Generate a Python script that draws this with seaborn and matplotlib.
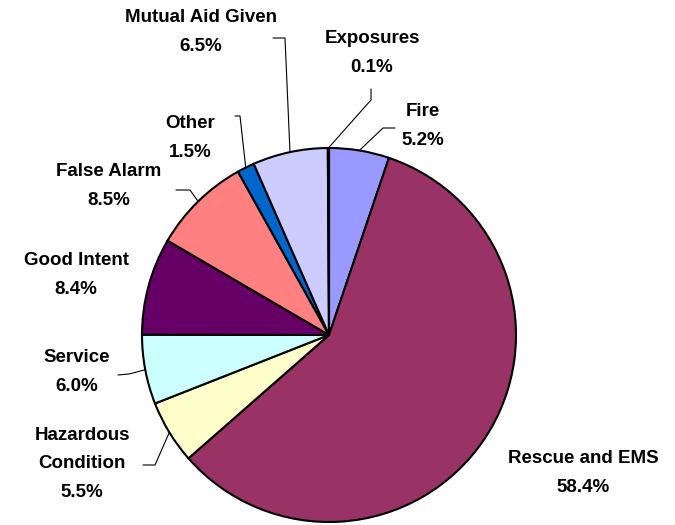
import numpy as np
import matplotlib
matplotlib.use("Agg")
import matplotlib.pyplot as plt
import seaborn as sns

categories = ["Fire", "Rescue and EMS", "Hazardous\nCondition", "Service", "Good Intent",
              "False Alarm", "Other", "Mutual Aid Given", "Exposures"]
values = [5.2, 58.4, 5.5, 6.0, 8.4, 8.5, 1.5, 6.5, 0.1]
colors = ["#9999FF", "#993366", "#FFFFCC", "#CCFFFF", "#660066",
          "#FF8080", "#0066CC", "#CCCCFF", "#000080"]

# layout (pixel coordinates, y measured from top)
W, H = 675, 525
cx, cy, R = 329, 335, 187
label_pos = [(423, 126), (583, 473), (82, 464), (77, 372), (76, 275),
             (109, 186), (190, 138), (201, 32), (372, 53)]
elbows = [[(395, 128), (383, 128)], None, [(143, 465), (155, 465)],
          [(118, 375), (129, 374)], None, [(176, 190), (190, 190)],
          [(235, 116), (240, 116)], [(273, 38), (285, 38)], [(371, 89), (371, 100)]]

sns.set_theme(style="white")
plt.rcParams["font.family"] = ["Liberation Sans", "DejaVu Sans"]

fig = plt.figure(figsize=(6.75, 5.25), dpi=100)
ax = fig.add_axes([0, 0, 1, 1])

def Y(y):
    return H - y

ax.pie(values, colors=colors, startangle=90, counterclock=False,
       center=(cx, Y(cy)), radius=R,
       wedgeprops=dict(edgecolor="black", linewidth=1.5))
ax.set_xlim(0, W)
ax.set_ylim(0, H)
ax.set_aspect("equal")
ax.axis("off")

total = sum(values)
cum = np.cumsum(values) - np.array(values) / 2
for i, (cat, v) in enumerate(zip(categories, values)):
    tx, ty = label_pos[i]
    ax.text(tx, Y(ty), f"{cat}\n{v:.1f}%", ha="center", va="center",
            fontsize=13.5, fontweight="bold", color="black", linespacing=1.9)
    if elbows[i] is not None:
        theta = np.deg2rad(cum[i] / total * 360)
        px = cx + R * np.sin(theta)
        py = cy - R * np.cos(theta)
        pts = elbows[i] + [(px, py)]
        ax.plot([p[0] for p in pts], [Y(p[1]) for p in pts], color="black", lw=0.8)

fig.savefig("out.png", dpi=100)
